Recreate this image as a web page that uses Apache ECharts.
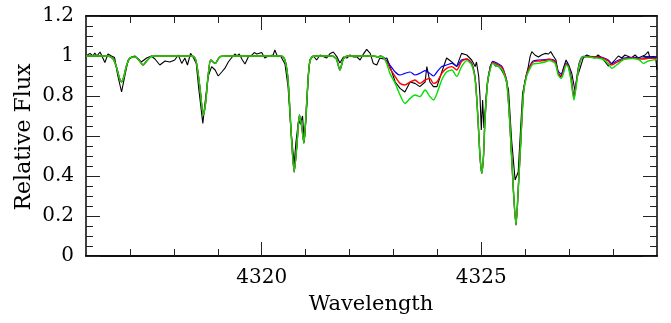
<!DOCTYPE html>
<html>
<head>
<meta charset="utf-8">
<script src="https://cdn.jsdelivr.net/npm/echarts@6/dist/echarts.min.js"></script>
<style>
  html, body { margin: 0; padding: 0; background: #fff; }
  #chart { width: 671px; height: 323px; }
</style>
</head>
<body>
<div id="chart"></div>
<script>
// Observed spectrum (black)
const obsWave = [
  4316.00, 4316.02, 4316.09, 4316.16, 4316.20, 4316.25, 4316.32, 4316.43, 4316.50, 4316.58,
  4316.65, 4316.72, 4316.81, 4316.88, 4316.96, 4317.04, 4317.11, 4317.19, 4317.26, 4317.38,
  4317.49, 4317.57, 4317.68, 4317.80, 4317.91, 4318.02, 4318.10, 4318.18, 4318.25, 4318.31,
  4318.38, 4318.45, 4318.51, 4318.57, 4318.66, 4318.70, 4318.78, 4318.86, 4318.94, 4319.01,
  4319.09, 4319.16, 4319.24, 4319.31, 4319.39, 4319.44, 4319.49, 4319.56, 4319.62, 4319.70,
  4319.78, 4319.83, 4319.89, 4320.00, 4320.07, 4320.15, 4320.26, 4320.30, 4320.36, 4320.43,
  4320.53, 4320.60, 4320.67, 4320.74, 4320.78, 4320.84, 4320.88, 4320.93, 4320.97, 4321.02,
  4321.06, 4321.10, 4321.18, 4321.25, 4321.33, 4321.40, 4321.48, 4321.56, 4321.63, 4321.71,
  4321.78, 4321.86, 4321.94, 4322.01, 4322.09, 4322.16, 4322.24, 4322.31, 4322.39, 4322.47,
  4322.54, 4322.62, 4322.69, 4322.77, 4322.85, 4322.95, 4323.04, 4323.15, 4323.26, 4323.38,
  4323.49, 4323.60, 4323.72, 4323.76, 4323.83, 4323.91, 4323.99, 4324.10, 4324.21, 4324.33,
  4324.44, 4324.55, 4324.59, 4324.67, 4324.78, 4324.86, 4324.89, 4324.94, 4324.97, 4325.00,
  4325.03, 4325.06, 4325.12, 4325.20, 4325.26, 4325.32, 4325.39, 4325.46, 4325.54, 4325.62,
  4325.69, 4325.77, 4325.81, 4325.84, 4325.88, 4325.94, 4326.00, 4326.07, 4326.11, 4326.15,
  4326.22, 4326.30, 4326.37, 4326.45, 4326.53, 4326.58, 4326.64, 4326.70, 4326.75, 4326.81,
  4326.87, 4326.93, 4326.99, 4327.06, 4327.13, 4327.19, 4327.25, 4327.32, 4327.40, 4327.51,
  4327.58, 4327.66, 4327.74, 4327.82, 4327.89, 4327.97, 4328.04, 4328.12, 4328.20, 4328.27,
  4328.35, 4328.42, 4328.50, 4328.57, 4328.65, 4328.73, 4328.80, 4328.84, 4328.92, 4328.97,
  4329.00
];
const obsFlux = [
  1.000, 1.000, 1.013, 1.000, 1.015, 1.000, 1.020, 0.967, 1.010, 1.000,
  0.993, 0.905, 0.820, 0.897, 0.980, 0.995, 1.000, 0.985, 0.970, 0.990,
  1.000, 0.985, 0.955, 0.975, 0.970, 0.980, 1.005, 0.963, 0.990, 0.955,
  1.013, 0.990, 0.963, 0.830, 0.663, 0.747, 0.897, 0.947, 0.930, 0.900,
  0.920, 0.938, 0.970, 0.990, 1.010, 1.000, 1.010, 0.980, 0.960, 0.997,
  1.005, 1.017, 1.010, 1.018, 0.990, 1.000, 1.005, 1.030, 0.997, 1.000,
  0.960, 0.847, 0.620, 0.460, 0.570, 0.680, 0.660, 0.700, 0.570, 0.720,
  0.900, 0.983, 1.000, 0.980, 1.005, 0.997, 0.990, 1.013, 1.020, 0.997,
  0.965, 0.995, 0.990, 1.005, 0.995, 0.997, 0.980, 1.008, 1.033, 1.013,
  0.963, 0.955, 0.990, 0.985, 0.990, 0.930, 0.870, 0.838, 0.820, 0.870,
  0.863, 0.847, 0.870, 0.947, 0.870, 0.847, 0.847, 0.920, 0.990, 0.970,
  0.947, 1.013, 1.022, 1.005, 0.980, 0.947, 0.970, 0.900, 0.800, 0.630,
  0.780, 0.640, 0.830, 0.947, 0.972, 0.950, 0.950, 0.930, 0.897, 0.830,
  0.580, 0.380, 0.372, 0.420, 0.580, 0.813, 0.880, 0.947, 0.997, 1.022,
  1.005, 0.995, 1.005, 1.013, 1.010, 1.022, 1.000, 0.980, 0.913, 0.893,
  0.940, 0.980, 0.955, 0.913, 0.830, 0.900, 0.940, 0.990, 1.005, 0.995,
  0.990, 1.005, 0.990, 0.970, 0.950, 0.963, 0.980, 1.000, 0.990, 1.005,
  0.997, 0.990, 1.005, 0.990, 0.997, 1.005, 1.022, 0.990, 0.997, 0.990,
  0.930
];

// Synthetic spectra on a shared wavelength grid
const modelWave = [
  4316.00, 4316.50, 4316.62, 4316.70, 4316.76, 4316.81, 4316.86, 4316.92, 4317.00, 4317.12,
  4317.22, 4317.30, 4317.38, 4317.48, 4317.60, 4318.40, 4318.48, 4318.53, 4318.60, 4318.67,
  4318.72, 4318.78, 4318.84, 4318.94, 4319.05, 4319.20, 4320.45, 4320.53, 4320.60, 4320.67,
  4320.74, 4320.80, 4320.86, 4320.91, 4320.96, 4321.02, 4321.08, 4321.14, 4321.25, 4321.60,
  4321.70, 4321.78, 4321.86, 4321.95, 4322.55, 4322.65, 4322.70, 4322.78, 4322.85, 4322.92,
  4323.04, 4323.15, 4323.26, 4323.38, 4323.49, 4323.60, 4323.72, 4323.83, 4323.91, 4323.99,
  4324.10, 4324.21, 4324.33, 4324.44, 4324.55, 4324.67, 4324.78, 4324.86, 4324.92, 4324.97,
  4325.01, 4325.05, 4325.08, 4325.14, 4325.20, 4325.26, 4325.32, 4325.39, 4325.46, 4325.50,
  4325.58, 4325.65, 4325.73, 4325.79, 4325.84, 4325.90, 4325.96, 4326.03, 4326.11, 4326.18,
  4326.30, 4326.45, 4326.55, 4326.68, 4326.75, 4326.82, 4326.88, 4326.93, 4326.98, 4327.04,
  4327.11, 4327.17, 4327.23, 4327.32, 4327.60, 4327.75, 4327.89, 4327.97, 4328.08, 4328.25,
  4328.45, 4328.60, 4328.69, 4328.80, 4329.00
];
const greenFlux = [
  1.000, 1.000, 0.985, 0.940, 0.890, 0.871, 0.895, 0.950, 0.990, 0.995,
  0.975, 0.955, 0.975, 0.997, 1.000, 1.000, 0.990, 0.947, 0.830, 0.705,
  0.760, 0.900, 0.980, 0.963, 0.997, 1.000, 1.000, 0.980, 0.880, 0.620,
  0.420, 0.550, 0.705, 0.650, 0.565, 0.750, 0.950, 0.995, 1.000, 1.000,
  0.985, 0.930, 0.985, 1.000, 1.000, 0.995, 1.000, 0.990, 0.960, 0.913,
  0.863, 0.805, 0.763, 0.788, 0.805, 0.797, 0.830, 0.797, 0.780, 0.813,
  0.880, 0.920, 0.930, 0.897, 0.947, 0.977, 0.955, 0.880, 0.700, 0.500,
  0.413, 0.500, 0.663, 0.863, 0.930, 0.963, 0.955, 0.947, 0.935, 0.920,
  0.863, 0.663, 0.330, 0.155, 0.330, 0.580, 0.813, 0.897, 0.938, 0.960,
  0.963, 0.970, 0.977, 0.963, 0.905, 0.888, 0.920, 0.955, 0.945, 0.880,
  0.780, 0.863, 0.955, 0.997, 0.990, 0.985, 0.963, 0.938, 0.955, 0.983,
  0.987, 0.980, 0.963, 0.975, 0.983
];
const redFlux = [
  1.000, 1.000, 0.985, 0.940, 0.890, 0.871, 0.895, 0.950, 0.990, 0.995,
  0.975, 0.955, 0.975, 0.997, 1.000, 1.000, 0.990, 0.947, 0.830, 0.705,
  0.760, 0.900, 0.980, 0.963, 0.997, 1.000, 1.000, 0.980, 0.880, 0.620,
  0.420, 0.550, 0.705, 0.650, 0.565, 0.750, 0.950, 0.995, 1.000, 1.000,
  0.985, 0.930, 0.985, 1.000, 1.000, 0.995, 1.000, 0.990, 0.970, 0.938,
  0.897, 0.863, 0.855, 0.870, 0.880, 0.863, 0.880, 0.888, 0.863, 0.870,
  0.913, 0.938, 0.947, 0.930, 0.972, 0.985, 0.960, 0.885, 0.700, 0.500,
  0.413, 0.500, 0.663, 0.865, 0.935, 0.968, 0.962, 0.955, 0.945, 0.930,
  0.870, 0.663, 0.330, 0.155, 0.330, 0.580, 0.815, 0.905, 0.948, 0.970,
  0.975, 0.978, 0.983, 0.970, 0.915, 0.900, 0.930, 0.960, 0.950, 0.890,
  0.790, 0.875, 0.960, 0.997, 0.995, 0.990, 0.975, 0.955, 0.968, 0.985,
  0.990, 0.985, 0.985, 0.988, 0.988
];
const blueFlux = [
  1.000, 1.000, 0.985, 0.940, 0.890, 0.871, 0.895, 0.950, 0.990, 0.995,
  0.975, 0.955, 0.975, 0.997, 1.000, 1.000, 0.990, 0.947, 0.830, 0.705,
  0.760, 0.900, 0.980, 0.963, 0.997, 1.000, 1.000, 0.980, 0.880, 0.620,
  0.420, 0.550, 0.705, 0.650, 0.565, 0.750, 0.950, 0.995, 1.000, 1.000,
  0.985, 0.930, 0.985, 1.000, 1.000, 0.995, 1.000, 0.992, 0.975, 0.955,
  0.920, 0.905, 0.913, 0.920, 0.905, 0.913, 0.927, 0.913, 0.900, 0.920,
  0.947, 0.955, 0.963, 0.950, 0.980, 0.985, 0.965, 0.890, 0.700, 0.500,
  0.413, 0.500, 0.663, 0.867, 0.940, 0.973, 0.968, 0.960, 0.950, 0.935,
  0.875, 0.663, 0.330, 0.155, 0.330, 0.580, 0.817, 0.910, 0.953, 0.975,
  0.980, 0.982, 0.985, 0.975, 0.925, 0.910, 0.940, 0.965, 0.955, 0.900,
  0.800, 0.885, 0.965, 0.998, 0.997, 0.993, 0.980, 0.962, 0.975, 0.990,
  0.993, 0.990, 0.990, 0.993, 0.993
];

// Axis ticks
const xMajorTicks = [4320, 4325];
const xMinorTicks = [4317, 4318, 4319, 4321, 4322, 4323, 4324, 4326, 4327, 4328];
const yTicks = [0, 0.2, 0.4, 0.6, 0.8, 1, 1.2];

const X_MIN = 4316, X_MAX = 4329;
const numFont = 'DejaVu Serif';
const nameFont = 'DejaVu Serif';

const pairs = (xs, ys) => xs.map((x, i) => [x, ys[i]]);

const chart = echarts.init(document.getElementById('chart'), null, { renderer: 'canvas' });

const frame = { show: true, onZero: false, lineStyle: { color: '#000', width: 1.5 } };

function xAxisDef(pos, values, len, withLabels) {
  return {
    type: 'value', position: pos, min: X_MIN, max: X_MAX,
    axisLine: frame,
    splitLine: { show: false },
    axisTick: { show: true, inside: true, length: len, customValues: values,
                lineStyle: { color: '#222', width: 1 } },
    axisLabel: withLabels
      ? { show: true, customValues: values, margin: 12, color: '#000',
          fontFamily: numFont, fontSize: 20, formatter: v => String(v) }
      : { show: false }
  };
}

function yAxisDef(pos, withLabels) {
  return {
    type: 'value', position: pos, min: 0, max: 1.2, interval: 0.2,
    axisLine: frame,
    splitLine: { show: false },
    axisTick: { show: true, inside: true, length: 14, lineStyle: { color: '#222', width: 1 } },
    minorTick: { show: true, splitNumber: 4, length: 7, lineStyle: { color: '#222', width: 1 } },
    axisLabel: withLabels
      ? { show: true, margin: 12, color: '#000', fontFamily: numFont, fontSize: 20,
          customValues: yTicks }
      : { show: false }
  };
}

const grid = { left: 86, right: 14, top: 16, bottom: 67, containLabel: false };

chart.setOption({
  animation: false,
  backgroundColor: '#fff',
  grid: grid,
  xAxis: [
    xAxisDef('bottom', xMajorTicks, 14, true),
    xAxisDef('bottom', xMinorTicks, 7, false),
    xAxisDef('top', xMajorTicks, 14, false),
    xAxisDef('top', xMinorTicks, 7, false)
  ],
  yAxis: [
    yAxisDef('left', true),
    yAxisDef('right', false)
  ],
  graphic: [
    { type: 'text', x: 371, y: 305,
      style: { text: 'Wavelength', font: '21px "' + nameFont + '"', fill: '#000',
               align: 'center', verticalAlign: 'middle' } },
    { type: 'text', x: 24, y: 137, rotation: Math.PI / 2,
      style: { text: 'Relative Flux', font: '22px "' + nameFont + '"', fill: '#000',
               align: 'center', verticalAlign: 'middle' } }
  ],
  series: [
    { name: 'observed', type: 'line', data: pairs(obsWave, obsFlux), showSymbol: false,
      lineStyle: { color: '#000', width: 1.1 }, z: 2 },
    { name: 'model A', type: 'line', data: pairs(modelWave, blueFlux), showSymbol: false, smooth: 0.25,
      lineStyle: { color: '#0000ff', width: 1.2 }, z: 3 },
    { name: 'model B', type: 'line', data: pairs(modelWave, redFlux), showSymbol: false, smooth: 0.25,
      lineStyle: { color: '#ff0000', width: 1.4 }, z: 4 },
    { name: 'model C', type: 'line', data: pairs(modelWave, greenFlux), showSymbol: false, smooth: 0.25,
      lineStyle: { color: '#00e000', width: 1.4 }, z: 5 }
  ]
});
</script>
</body>
</html>
